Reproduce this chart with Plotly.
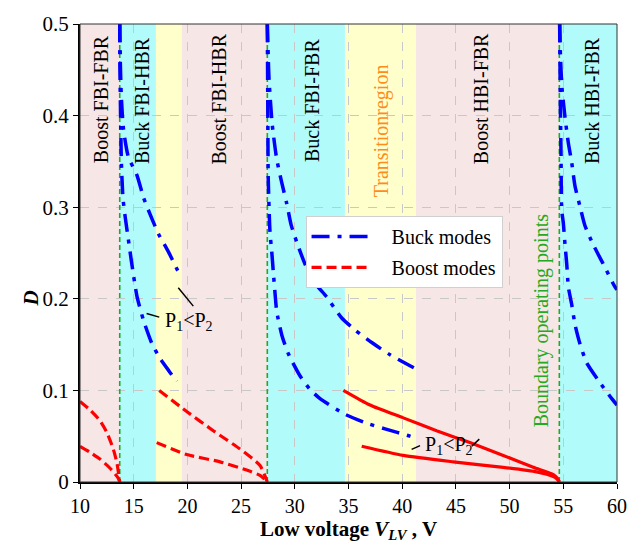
import plotly.graph_objects as go

# ---------------- data ----------------
# background operating regions (x-ranges in V) and their colours
region_x0 = [10.0, 13.7, 17.07, 19.47, 27.44, 34.67, 41.28, 54.63]
region_x1 = [13.7, 17.07, 19.47, 27.44, 34.67, 41.28, 54.63, 60.0]
region_col = ["#F6E6E6", "#B2FBFB", "#FFFFCC", "#F6E6E6", "#B2FBFB", "#FFFFCC", "#F6E6E6", "#B2FBFB"]

# boundary operating points (green dashed verticals)
boundary_x = [13.7, 27.44, 54.63]

# region labels
label_text = ["Boost FBI-FBR", "Buck FBI-HBR", "Boost FBI-HBR", "Buck FBI-FBR",
              "Transitionregion", "Boost HBI-FBR", "Buck HBI-FBR", "Boundary operating points"]
label_x = [11.96, 15.77, 22.99, 31.6, 38.03, 47.34, 57.67, 52.97]
label_y = [0.418, 0.417, 0.418, 0.417, 0.383, 0.418, 0.417, 0.176]
label_col = ["black", "black", "black", "black", "#FF8C1A", "black", "black", "#22AA22"]

# Buck modes (blue dash-dot)
buck1a_x = [13.7, 13.72, 13.78, 13.85, 14.0, 14.2, 14.5, 14.8, 15.3, 15.9, 16.7, 17.45, 18.3, 19.0]
buck1a_y = [0.5, 0.45, 0.40, 0.35, 0.31, 0.29, 0.265, 0.24, 0.203, 0.177, 0.151, 0.135, 0.121, 0.11]
buck1b_x = [13.7, 13.75, 13.85, 14.05, 14.5, 15.3, 15.9, 16.5, 17.3, 18.2, 19.3]
buck1b_y = [0.5, 0.46, 0.42, 0.385, 0.355, 0.335, 0.311, 0.293, 0.271, 0.252, 0.226]
buck2a_x = [27.44, 27.48, 27.53, 27.69, 27.85, 28.0, 28.16, 28.32, 28.8, 29.4, 30.48, 31.42, 32.35, 34.67, 36.5, 38.4, 40.73, 41.2]
buck2a_y = [0.5, 0.42, 0.33, 0.273, 0.252, 0.229, 0.206, 0.186, 0.16, 0.140, 0.116, 0.101, 0.091, 0.074, 0.065, 0.058, 0.050, 0.048]
buck2b_x = [27.44, 27.6, 27.9, 28.31, 28.78, 29.25, 29.65, 30.18, 30.95, 31.88, 32.97, 34.37, 35.61, 37.2, 38.86, 41.2]
buck2b_y = [0.5, 0.44, 0.39, 0.353, 0.327, 0.304, 0.281, 0.262, 0.238, 0.217, 0.202, 0.179, 0.166, 0.152, 0.139, 0.124]
buck3a_x = [54.66, 54.72, 54.79, 54.85, 55.0, 55.16, 55.32, 55.47, 55.78, 56.09, 56.55, 57.18, 58.26, 59.51, 60.0]
buck3a_y = [0.5, 0.42, 0.356, 0.297, 0.283, 0.259, 0.238, 0.213, 0.194, 0.172, 0.151, 0.130, 0.111, 0.091, 0.084]
buck3b_x = [54.66, 54.75, 54.88, 55.16, 55.47, 55.78, 56.09, 56.55, 57.01, 57.79, 58.72, 59.81, 60.0]
buck3b_y = [0.5, 0.46, 0.43, 0.398, 0.370, 0.349, 0.323, 0.301, 0.280, 0.259, 0.238, 0.213, 0.21]

# Boost modes (red dashed, last region solid)
boost1a_x = [10.0, 11.0, 11.86, 12.5, 13.1, 13.45, 13.7]
boost1a_y = [0.088, 0.078, 0.067, 0.054, 0.036, 0.02, 0.0]
boost1b_x = [10.0, 11.0, 11.86, 12.8, 13.57, 13.7]
boost1b_y = [0.039, 0.032, 0.025, 0.015, 0.004, 0.0]
boost2a_x = [17.38, 19.93, 22.41, 24.9, 26.76, 27.44]
boost2a_y = [0.100, 0.077, 0.056, 0.036, 0.018, 0.0]
boost2b_x = [17.14, 19.93, 23.04, 25.52, 26.8, 27.44]
boost2b_y = [0.043, 0.030, 0.022, 0.013, 0.007, 0.0]
boost3a_x = [34.52, 37.0, 40.1, 43.2, 46.3, 49.41, 52.2, 54.07, 54.45, 54.63]
boost3a_y = [0.100, 0.084, 0.070, 0.056, 0.043, 0.029, 0.016, 0.008, 0.004, 0.0]
boost3b_x = [36.23, 40.1, 44.76, 49.41, 52.52, 54.07, 54.45, 54.63]
boost3b_y = [0.039, 0.029, 0.022, 0.016, 0.011, 0.006, 0.003, 0.0]

# "P1<P2" notes and their leader lines
note_x = [17.73, 41.94]
note_y = [0.175, 0.040]
leader_x0 = [16.2, 19.15, 40.88, 46.47]
leader_y0 = [0.184, 0.212, 0.0356, 0.039]
leader_x1 = [17.38, 20.55, 41.66, 47.18]
leader_y1 = [0.180, 0.192, 0.0397, 0.0468]

x_ticks = [10, 15, 20, 25, 30, 35, 40, 45, 50, 55, 60]
y_ticks = [0, 0.1, 0.2, 0.3, 0.4, 0.5]

FONT = "Liberation Serif"
BLUE = "#0000FF"
RED = "#FF0000"
GREEN = "#22AA22"
NB = "\u00a0\u00a0\u00a0"

fig = go.Figure()

# green boundary lines
for bx in boundary_x:
    fig.add_trace(go.Scatter(x=[bx, bx], y=[0, 0.5], mode="lines",
                             line=dict(color=GREEN, width=1.6, dash="5px,3px"),
                             showlegend=False, hoverinfo="skip"))

buck_dash = "18px,8px,4px,8px"
buck_sets = [(buck1a_x, buck1a_y), (buck1b_x, buck1b_y), (buck2a_x, buck2a_y),
             (buck2b_x, buck2b_y), (buck3a_x, buck3a_y), (buck3b_x, buck3b_y)]
for i, (bx, by) in enumerate(buck_sets):
    fig.add_trace(go.Scatter(x=bx, y=by, mode="lines", name=NB + "Buck modes",
                             legendgroup="buck", showlegend=(i == 0),
                             line=dict(color=BLUE, width=3.5, dash=buck_dash, shape="spline", smoothing=0.6)))

boost_dash = "10px,5px"
boost_sets = [(boost1a_x, boost1a_y), (boost1b_x, boost1b_y), (boost2a_x, boost2a_y), (boost2b_x, boost2b_y)]
for i, (bx, by) in enumerate(boost_sets):
    fig.add_trace(go.Scatter(x=bx, y=by, mode="lines", name=NB + "Boost modes",
                             legendgroup="boost", showlegend=(i == 0),
                             line=dict(color=RED, width=3.2, dash=boost_dash, shape="spline", smoothing=0.6)))
for bx, by in [(boost3a_x, boost3a_y), (boost3b_x, boost3b_y)]:
    fig.add_trace(go.Scatter(x=bx, y=by, mode="lines", legendgroup="boost", showlegend=False,
                             line=dict(color=RED, width=3.2, shape="spline", smoothing=0.6)))

shapes = []
for x0, x1, c in zip(region_x0, region_x1, region_col):
    shapes.append(dict(type="rect", xref="x", yref="y", x0=x0, x1=x1, y0=0, y1=0.5,
                       fillcolor=c, line=dict(width=0), layer="below"))
for x0, y0, x1, y1 in zip(leader_x0, leader_y0, leader_x1, leader_y1):
    shapes.append(dict(type="line", xref="x", yref="y", x0=x0, y0=y0, x1=x1, y1=y1,
                       line=dict(color="black", width=1.5)))
shapes.append(dict(type="rect", xref="paper", yref="paper", x0=0, x1=1, y0=0, y1=1,
                   line=dict(color="#333333", width=1)))

annotations = []
for t, x, y, c in zip(label_text, label_x, label_y, label_col):
    annotations.append(dict(text=t, x=x, y=y, xref="x", yref="y", textangle=-90,
                            showarrow=False, font=dict(family=FONT, size=20, color=c)))
for x, y in zip(note_x, note_y):
    annotations.append(dict(text="P<sub>1</sub><P<sub>2</sub>", x=x, y=y, xref="x", yref="y",
                            xanchor="left", yanchor="middle", showarrow=False,
                            font=dict(family=FONT, size=20, color="black")))
annotations.append(dict(text="<b><i>D</i></b>", x=-0.118, y=0.2, xref="paper", yref="y",
                        textangle=-90, showarrow=False, font=dict(family=FONT, size=21, color="black")))

fig.update_layout(
    width=640, height=548,
    margin=dict(l=80, r=23, t=13, b=57),
    paper_bgcolor="white", plot_bgcolor="white",
    font=dict(family=FONT, size=20, color="black"),
    shapes=shapes, annotations=annotations,
    legend=dict(x=0.42, y=0.581, xanchor="left", yanchor="top",
                bgcolor="white", bordercolor="#D0D0D0", borderwidth=1,
                itemwidth=60, font=dict(family=FONT, size=20), tracegroupgap=2),
    xaxis=dict(range=[10, 60], tickvals=x_ticks, showgrid=True, gridcolor="#C8C8C8", griddash="dash",
               gridwidth=1, showline=True, linecolor="black", linewidth=2, ticks="outside",
               ticklen=5, tickcolor="black", zeroline=False, tickfont=dict(family=FONT, size=20),
               title=dict(text="<b>Low voltage <i>V</i><sub><i>LV</i></sub> , V</b>",
                          font=dict(family=FONT, size=21), standoff=4)),
    yaxis=dict(range=[0, 0.5], tickvals=y_ticks, ticktext=["0", "0.1", "0.2", "0.3", "0.4", "0.5"],
               showgrid=True, gridcolor="#C8C8C8", griddash="dash", gridwidth=1,
               showline=True, linecolor="black", linewidth=2, ticks="outside", ticklen=5,
               tickcolor="black", zeroline=False, tickfont=dict(family=FONT, size=21)),
)

fig.write_html("out.html")
